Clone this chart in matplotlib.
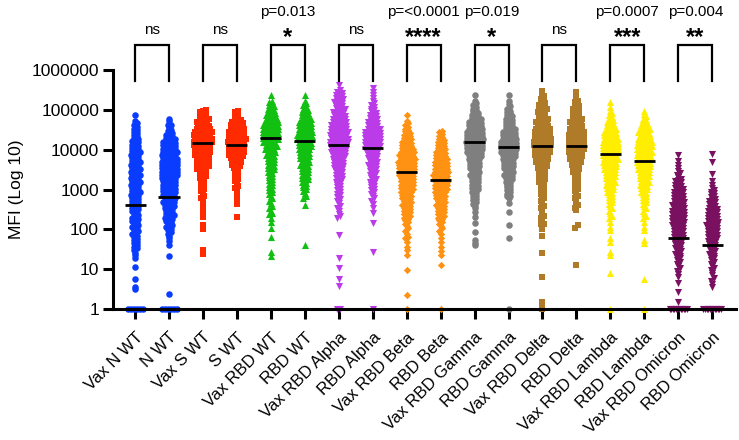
import numpy as np
import matplotlib
matplotlib.use("Agg")
import matplotlib.pyplot as plt
import matplotlib.transforms as mtransforms

plt.rcParams['font.family'] = ['Liberation Sans', 'DejaVu Sans']

categories = ["Vax N WT", "N WT", "Vax S WT", "S WT", "Vax RBD WT", "RBD WT",
              "Vax RBD Alpha", "RBD Alpha", "Vax RBD Beta", "RBD Beta",
              "Vax RBD Gamma", "RBD Gamma", "Vax RBD Delta", "RBD Delta",
              "Vax RBD Lambda", "RBD Lambda", "Vax RBD Omicron", "RBD Omicron"]

# number of samples per quarter-decade bin of log10(MFI), starting at bin_start
bin_start = [5, 7, 9, 10, 9, 11, 9, 10, 7, 7, 9, 11, 8, 10, 8, 8, 3, 2]
vax_n_wt = [4, 6, 7, 8, 8, 9, 10, 10, 11, 10, 10, 9, 7, 5, 1]
n_wt = [5, 8, 10, 12, 14, 15, 18, 18, 17, 15, 9, 3]
vax_s_wt = [2, 3, 4, 5, 9, 14, 17, 20, 20, 14, 10]
s_wt = [1, 3, 4, 6, 10, 17, 19, 19, 15, 6]
vax_rbd_wt = [3, 4, 5, 6, 7, 9, 10, 14, 19, 17, 12, 7, 1]
rbd_wt = [4, 7, 9, 10, 12, 15, 17, 15, 10, 5, 1]
vax_rbd_alpha = [3, 4, 6, 7, 9, 12, 15, 20, 20, 17, 14, 10, 9, 1]
rbd_alpha = [3, 5, 7, 8, 10, 12, 17, 19, 12, 9, 5, 3]
vax_rbd_beta = [3, 5, 9, 10, 12, 15, 17, 19, 17, 12, 9, 5, 1]
rbd_beta = [3, 5, 9, 10, 12, 15, 17, 15, 12, 10, 6]
vax_rbd_gamma = [2, 5, 7, 9, 10, 12, 15, 19, 19, 15, 9, 5, 1]
rbd_gamma = [5, 7, 10, 12, 15, 19, 15, 10, 7, 4, 1]
vax_rbd_delta = [3, 4, 4, 5, 7, 9, 12, 17, 20, 19, 14, 10, 9, 4]
rbd_delta = [3, 4, 5, 7, 10, 15, 19, 17, 14, 10, 7, 2]
vax_rbd_lambda = [2, 4, 5, 7, 10, 12, 15, 17, 19, 15, 10, 5, 2]
rbd_lambda = [2, 4, 5, 7, 10, 12, 15, 17, 17, 14, 9, 4]
vax_rbd_omicron = [3, 5, 7, 9, 12, 14, 15, 14, 12, 9, 5, 3, 1]
rbd_omicron = [3, 4, 5, 7, 9, 12, 14, 12, 9, 7, 3]
bin_counts = [vax_n_wt, n_wt, vax_s_wt, s_wt, vax_rbd_wt, rbd_wt,
              vax_rbd_alpha, rbd_alpha, vax_rbd_beta, rbd_beta,
              vax_rbd_gamma, rbd_gamma, vax_rbd_delta, rbd_delta,
              vax_rbd_lambda, rbd_lambda, vax_rbd_omicron, rbd_omicron]

# single outlying samples
outliers = [[11.5, 5.8, 3.5, 3.1],
            [60000, 42000, 50, 40, 21, 2.4],
            [130, 100, 30, 24],
            [200],
            [260, 150, 110, 66, 27, 21],
            [400, 40],
            [210, 72, 19, 10.7, 5.6, 3.8],
            [350000, 260, 145, 27],
            [66, 48, 35, 30, 23, 9.5, 2.2],
            [49, 37, 29, 23, 13],
            [145, 88, 54, 45, 40],
            [700, 450, 280, 130, 60],
            [140, 100, 70, 26, 6.5, 1.5, 1.2],
            [400, 300, 130, 110, 13],
            [96, 60, 48, 27, 23, 8],
            [96, 55, 45, 5.7],
            [4.5, 2.6, 1.5],
            [7600, 5000, 2400]]
# samples sitting at the floor value 1
n_at_one = [6, 6, 0, 0, 0, 0, 2, 1, 1, 1, 0, 1, 1, 0, 1, 1, 12, 12]

medians = [400, 660, 14500, 13200, 20000, 16600, 13200, 11300, 2800, 1740,
           15400, 11800, 12500, 12500, 7700, 5200, 60, 40]

pair_labels = ["ns", "ns", "*", "ns", "****", "*", "ns", "***", "**"]
pair_pvalues = ["", "", "p=0.013", "", "p=<0.0001", "p=0.019", "", "p=0.0007", "p=0.004"]

colors = ["#0a3cff", "#0a3cff", "#ff2a00", "#ff2a00", "#12c012", "#12c012",
          "#bb3be8", "#bb3be8", "#ff9212", "#ff9212", "#7f7f7f", "#7f7f7f",
          "#b07b28", "#b07b28", "#ffee00", "#ffee00", "#7a1060", "#7a1060"]
markers = ["o", "o", "s", "s", "^", "^", "v", "v", "D", "D",
           "o", "o", "s", "s", "^", "^", "v", "v"]
msizes = {"o": 22, "s": 22, "^": 26, "v": 26, "D": 14}

PX_PER_DEC = 39.8
CAT_PX = 34.0
MK = 6.5


def swarm_offsets(logv, row_px=3.3, sp=3.0, maxw=24.0):
    # spread the points of each pixel row side by side around the category
    rows = np.round(logv * PX_PER_DEC / row_px).astype(int)
    off = np.zeros(len(logv))
    for r in np.unique(rows):
        idx = np.where(rows == r)[0]
        k = len(idx)
        step = sp
        if k > 1 and (k - 1) * sp > maxw - MK:
            step = (maxw - MK) / (k - 1)
        off[idx] = (np.arange(k) - (k - 1) / 2) * step
    return off / CAT_PX


fig = plt.figure(figsize=(7.39, 4.40), dpi=100)
ax = fig.add_axes([113 / 739, 1 - 309 / 440, (736 - 113) / 739, (309 - 70) / 440])

for i, counts in enumerate(bin_counts):
    logs = []
    for j, c in enumerate(counts):
        b = (bin_start[i] + j) * 0.25
        logs.extend(b + (np.arange(c) + 0.5) / c * 0.25)
    logs.extend(np.log10(outliers[i]))
    logs.extend([0.0] * n_at_one[i])
    logs = np.sort(np.array(logs))
    xs = i + swarm_offsets(logs)
    ax.scatter(xs, 10 ** logs, s=msizes[markers[i]], marker=markers[i],
               color=colors[i], linewidths=0, clip_on=False, zorder=2)
    ax.plot([i - 0.31, i + 0.31], [medians[i], medians[i]], color="black",
            lw=2.0, zorder=4, solid_capstyle="butt")

ax.set_yscale("log")
ax.set_ylim(1, 1e6)
ax.set_xlim(-0.65, 17.7)
ax.set_yticks([1, 10, 100, 1000, 10000, 100000, 1000000])
ax.set_yticklabels(["1", "10", "100", "1000", "10000", "100000", "1000000"])
ax.yaxis.set_minor_locator(matplotlib.ticker.NullLocator())
ax.set_xticks(range(len(categories)))
ax.set_xticklabels(categories, rotation=45, ha="right", va="top",
                   rotation_mode="anchor", fontsize=12)
ax.tick_params(axis="both", width=2.2, length=7, labelsize=12.5, pad=3)
ax.tick_params(axis="x", pad=8, labelsize=12)
for side in ["top", "right"]:
    ax.spines[side].set_visible(False)
for side in ["left", "bottom"]:
    ax.spines[side].set_linewidth(2.2)
    ax.spines[side].set_zorder(3)
ax.set_ylabel("MFI (Log 10)", fontsize=12.5)
ax.yaxis.set_label_coords(-0.143, 0.5)

# significance brackets above the axes
tr = mtransforms.blended_transform_factory(ax.transData, fig.transFigure)
y_top = 1 - 45 / 440
y_bot = 1 - 81 / 440
for k in range(9):
    a, b = 2 * k, 2 * k + 1
    ax.plot([a, a, b, b], [y_bot, y_top, y_top, y_bot], color="black", lw=1.6,
            transform=tr, clip_on=False, solid_joinstyle="miter")
    mid = (a + b) / 2
    if pair_labels[k] == "ns":
        ax.text(mid, 1 - 30 / 440, "ns", transform=tr, ha="center", va="center", fontsize=11)
    else:
        ax.text(mid, 1 - 38 / 440, pair_labels[k], transform=tr, ha="center", va="center",
                fontsize=17, fontweight="bold")
    if pair_pvalues[k]:
        ax.text(mid, 1 - 12 / 440, pair_pvalues[k], transform=tr, ha="center", va="center",
                fontsize=11)

fig.savefig("out.png", dpi=100)
